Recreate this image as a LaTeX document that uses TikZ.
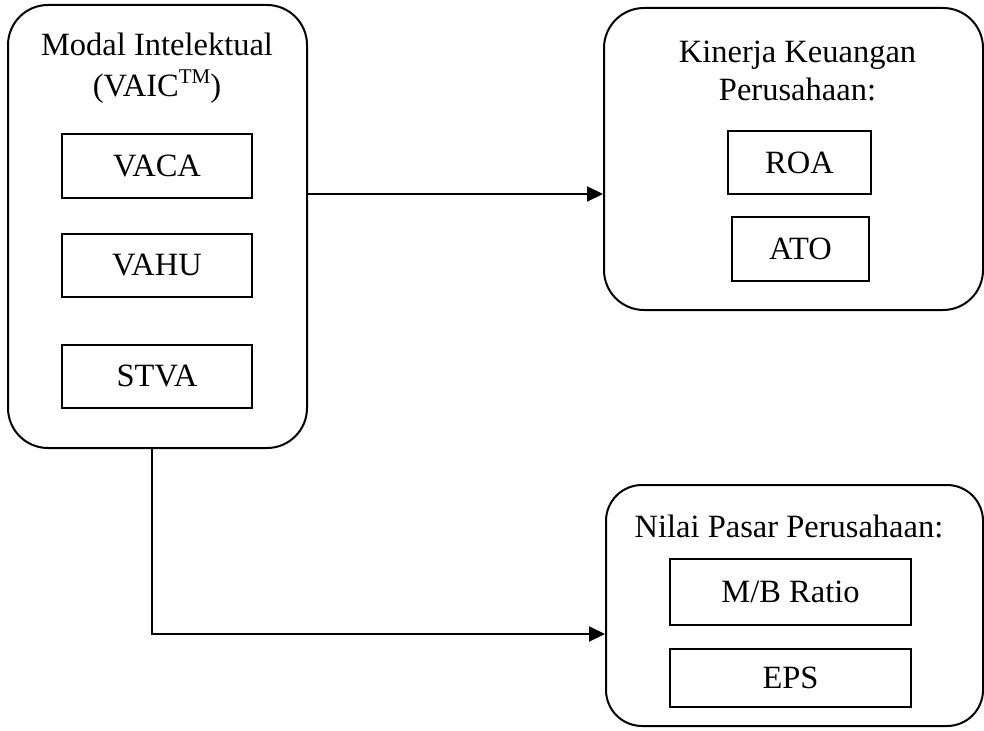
\documentclass[tikz,border=0pt]{standalone}
\usepackage{fontspec}
\setmainfont{Liberation Serif}
\usetikzlibrary{positioning,arrows.meta}

\begin{document}
\begin{tikzpicture}[
    x=1pt, y=-1pt,
    >={Triangle[length=16pt,width=15pt]},
    every node/.style={font=\fontsize{32.5}{38}\selectfont},
    group/.style={
        draw,
        line width=2pt,
        rounded corners=40pt,
        inner sep=0pt
    },
    item/.style={
        draw,
        line width=2pt,
        inner sep=0pt,
        minimum height=63pt
    },
    title/.style={align=center, inner sep=0pt},
    flow/.style={->, line width=2pt}
]
\useasboundingbox (0,0) rectangle (984,730);

\node[group, minimum width=299pt, minimum height=443pt] (intel) at (157.5,226.5) {};
\node[group, minimum width=379pt, minimum height=302pt] (kinerja) at (793.5,159) {};
\node[group, rounded corners=36pt, minimum width=377pt, minimum height=241pt] (nilai) at (794.5,605.5) {};

\node[title] (inteltitle) at (157,68) {Modal Intelektual\\[3pt](VAIC\raisebox{0.85ex}{\fontsize{21}{21}\selectfont TM})};
\node[title] (kinerjatitle) at (797.5,71) {Kinerja Keuangan\\Perusahaan:};
\node[title] (nilaititle) at (789,526) {Nilai Pasar Perusahaan:};

\node[item, minimum width=190pt] (vaca) at (157,166) {VACA};
\node[item, minimum width=190pt] (vahu) at (157,265.5) {VAHU};
\node[item, minimum width=190pt] (stva) at (157,376) {STVA};

\node[item, minimum width=143pt] (roa) at (799.5,162.5) {ROA};
\node[item, minimum width=137pt, minimum height=64pt] (ato) at (800.5,249) {ATO};

\node[item, minimum width=241pt, minimum height=66pt] (mbratio) at (790.5,592) {M/B Ratio};
\node[item, minimum width=241pt, minimum height=58pt] (eps) at (790.5,678) {EPS};

\coordinate (toprow) at (0,194);
\coordinate (bend) at (152,634);

\draw[flow] (intel.east |- toprow) -- (kinerja.west |- toprow);
\draw[flow] (intel.south -| bend) |- (nilai.west |- bend);

\end{tikzpicture}
\end{document}
